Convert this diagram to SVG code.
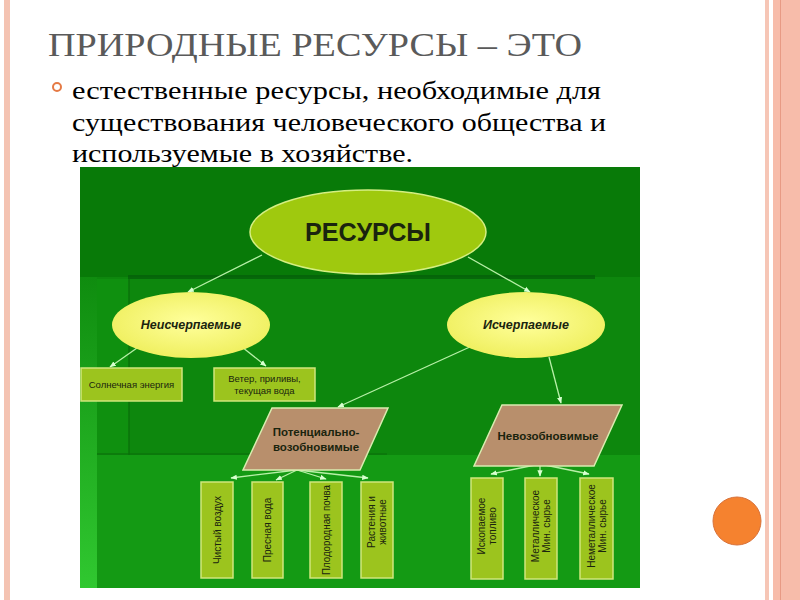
<svg xmlns="http://www.w3.org/2000/svg" width="800" height="600" viewBox="0 0 800 600">
<defs>
<style>
.title{font-size:34px;fill:#5a5a5a}
.body{font-size:26px;fill:#000}
.lbl{font-family:"Liberation Sans",Arial,sans-serif;fill:#1a240e}
.rect{fill:#9cc41e;stroke:#cfe67c;stroke-width:1.5}
.para{fill:#b88f6c;stroke:#d9ecb0;stroke-width:1.5}
.conn{stroke:#b8f0a8;stroke-width:1.3;fill:none;marker-end:url(#ah)}
.vt{font-size:10px;text-anchor:middle}
</style>
<marker id="ah" viewBox="0 0 10 10" refX="9" refY="5" markerWidth="5" markerHeight="5" orient="auto">
<path d="M0,1 L10,5 L0,9 z" fill="#d8ffd0"/>
</marker>
<radialGradient id="yel" cx="0.5" cy="0.45" r="0.6">
<stop offset="0" stop-color="#ffff9c"/>
<stop offset="1" stop-color="#eeee5a"/>
</radialGradient>
<linearGradient id="lstrip" x1="0" y1="0" x2="0" y2="1">
<stop offset="0" stop-color="#0f8c0f"/>
<stop offset="1" stop-color="#30c830"/>
</linearGradient>
</defs>

<!-- slide decoration -->
<rect x="0" y="0" width="800" height="600" fill="#fff"/>
<rect x="4" y="0" width="6" height="600" fill="#f4c3b2"/>
<rect x="765" y="0" width="4" height="600" fill="#f6c6b6"/>
<rect x="773" y="0" width="27" height="600" fill="#f7bcaa"/>
<rect x="780" y="0" width="1" height="600" fill="#e89a84"/>
<circle cx="737" cy="521" r="24" fill="#f5822f" stroke="#d8723a" stroke-width="1"/>

<!-- title and text -->
<g font-family="Liberation Serif, DejaVu Serif, serif">
<text class="title" x="48" y="56" textLength="534" lengthAdjust="spacingAndGlyphs">ПРИРОДНЫЕ РЕСУРСЫ – ЭТО</text>
<text class="body" x="72" y="99" textLength="529" lengthAdjust="spacingAndGlyphs">естественные ресурсы, необходимые для</text>
<text class="body" x="72" y="131" textLength="534" lengthAdjust="spacingAndGlyphs">существования человеческого общества и</text>
<text class="body" x="72" y="162" textLength="341" lengthAdjust="spacingAndGlyphs">используемые в хозяйстве.</text>
</g>
<circle cx="57" cy="87" r="4" fill="none" stroke="#e57a45" stroke-width="2"/>

<!-- green picture background -->
<g id="background">
<rect x="80" y="167" width="560" height="421" fill="#0d870d"/>
<rect x="80" y="167" width="560" height="110" fill="#087a08"/>
<rect x="128" y="275" width="467" height="4" fill="#05600a" opacity="0.8"/>
<rect x="80" y="277" width="17" height="311" fill="url(#lstrip)"/>
<rect x="97" y="279" width="32" height="176" fill="#0f900f"/>
<rect x="128" y="279" width="2" height="176" fill="#0a700a" opacity="0.7"/>
<rect x="97" y="455" width="543" height="133" fill="#149a14"/>
<rect x="97" y="453" width="290" height="2" fill="#0a700a" opacity="0.6"/>
</g>

<!-- connectors -->
<g id="connectors">
<line class="conn" x1="262" y1="255" x2="188" y2="292"/>
<line class="conn" x1="468" y1="257" x2="530" y2="292"/>
<line class="conn" x1="137" y1="348" x2="110" y2="367"/>
<line class="conn" x1="242" y1="347" x2="266" y2="366"/>
<line class="conn" x1="472" y1="346" x2="338" y2="407"/>
<line class="conn" x1="549" y1="357" x2="561" y2="403"/>
<line class="conn" x1="297" y1="470" x2="231" y2="478"/>
<line class="conn" x1="297" y1="470" x2="276" y2="480"/>
<line class="conn" x1="297" y1="470" x2="326" y2="479"/>
<line class="conn" x1="297" y1="470" x2="368" y2="478"/>
<line class="conn" x1="540" y1="464" x2="491" y2="474"/>
<line class="conn" x1="540" y1="464" x2="540" y2="476"/>
<line class="conn" x1="540" y1="464" x2="589" y2="474"/>
</g>

<!-- nodes -->
<g id="resursy">
<ellipse cx="368" cy="232" rx="118" ry="42" fill="#9fc90e" stroke="#d5ef82" stroke-width="1.5"/>
<text class="lbl" x="368" y="241" font-size="26" font-weight="bold" text-anchor="middle" textLength="126" lengthAdjust="spacingAndGlyphs" fill="#151515">РЕСУРСЫ</text>
</g>
<g id="neischerpaemye">
<ellipse cx="191" cy="325" rx="79" ry="33" fill="url(#yel)"/>
<text class="lbl" x="191" y="329" font-size="12.5" font-weight="bold" font-style="italic" text-anchor="middle">Неисчерпаемые</text>
</g>
<g id="ischerpaemye">
<ellipse cx="526" cy="325" rx="79" ry="33" fill="url(#yel)"/>
<text class="lbl" x="526" y="329" font-size="12.5" font-weight="bold" font-style="italic" text-anchor="middle">Исчерпаемые</text>
</g>
<g id="solar">
<rect class="rect" x="81" y="368" width="101" height="33"/>
<text class="lbl" x="131.5" y="388" font-size="9.5" text-anchor="middle">Солнечная энергия</text>
</g>
<g id="wind">
<rect class="rect" x="214" y="368" width="101" height="33"/>
<text class="lbl" x="264.5" y="382" font-size="9.5" text-anchor="middle">Ветер, приливы,</text>
<text class="lbl" x="264.5" y="394" font-size="9.5" text-anchor="middle">текущая вода</text>
</g>
<g id="potential">
<polygon class="para" points="272,408 388,408 360,470 243,470"/>
<text class="lbl" x="316" y="436" font-size="11.5" font-weight="bold" text-anchor="middle">Потенциально-</text>
<text class="lbl" x="316" y="451" font-size="11.5" font-weight="bold" text-anchor="middle">возобновимые</text>
</g>
<g id="nevozob">
<polygon class="para" points="502,405 622,405 594,466 474,466"/>
<text class="lbl" x="548" y="440" font-size="11.5" font-weight="bold" text-anchor="middle">Невозобновимые</text>
</g>

<g id="air">
<rect class="rect" x="201" y="482" width="32" height="96"/>
<text class="lbl vt" transform="translate(220.5,530) rotate(-90)">Чистый воздух</text>
</g>
<g id="water">
<rect class="rect" x="252" y="482" width="31" height="96"/>
<text class="lbl vt" transform="translate(271,530) rotate(-90)">Пресная вода</text>
</g>
<g id="soil">
<rect class="rect" x="310" y="482" width="32" height="96"/>
<text class="lbl vt" transform="translate(329.5,530) rotate(-90)" textLength="90" lengthAdjust="spacingAndGlyphs">Плодородная почва</text>
</g>
<g id="plants">
<rect class="rect" x="361" y="482" width="32" height="96"/>
<text class="lbl vt" transform="translate(375,522) rotate(-90)">Растения и</text>
<text class="lbl vt" transform="translate(386,522) rotate(-90)">животные</text>
</g>
<g id="fuel">
<rect class="rect" x="471" y="478" width="32" height="101"/>
<text class="lbl vt" transform="translate(485,526) rotate(-90)">Ископаемое</text>
<text class="lbl vt" transform="translate(496,526) rotate(-90)">топливо</text>
</g>
<g id="metal">
<rect class="rect" x="525" y="478" width="32" height="101"/>
<text class="lbl vt" transform="translate(539,526) rotate(-90)">Металлическое</text>
<text class="lbl vt" transform="translate(550,526) rotate(-90)">Мин. сырье</text>
</g>
<g id="nonmetal">
<rect class="rect" x="580" y="478" width="33" height="101"/>
<text class="lbl vt" transform="translate(594.5,526) rotate(-90)">Неметаллическое</text>
<text class="lbl vt" transform="translate(605.5,526) rotate(-90)">Мин. сырье</text>
</g>
</svg>
